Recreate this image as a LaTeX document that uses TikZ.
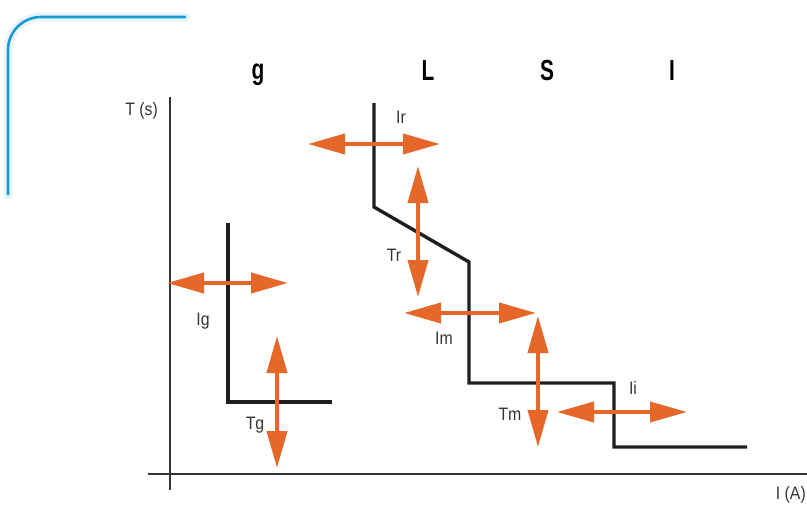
\documentclass[tikz,border=0pt]{standalone}
\usepackage{fontspec}
\setmainfont[FakeStretch=0.88]{Liberation Sans}
\newfontfamily\zonefont[FakeStretch=0.72]{Liberation Sans}
\usetikzlibrary{arrows.meta}
\definecolor{corang}{HTML}{E5682A}
\definecolor{cblue}{HTML}{1A9AD6}
\definecolor{curvec}{HTML}{1E1E1E}
\tikzset{
  ax/.style={line width=1.2pt, draw=curvec!90},
  curve/.style={line width=3.4pt, draw=curvec, line join=miter},
  adjarrow/.style={line width=4pt, draw=corang, {Triangle[length=37pt,width=20pt]}-{Triangle[length=37pt,width=20pt]}, fill=corang},
  lbl/.style={font=\fontsize{18}{19}\selectfont, text=curvec!90, inner sep=0pt},
  zone/.style={font=\zonefont\fontsize{29}{30}\selectfont\bfseries, text=black, inner sep=0pt},
}
\begin{document}
\begin{tikzpicture}[x=1pt,y=-1pt]
\useasboundingbox (0,0) rectangle (807,506);
% blue corner
\coordinate (b1) at (8,195);
\coordinate (b2) at (186,17);
\draw[line width=9pt, cblue!10, line cap=round] (b1) -- (8,50) arc[start angle=180,end angle=270,radius=33] -- (b2);
\draw[line width=2.6pt, cblue] (b1) -- (8,50) arc[start angle=180,end angle=270,radius=33] -- (b2);
% axes
\coordinate (ya) at (170,97);
\coordinate (yb) at (170,490);
\coordinate (xa) at (148,474);
\coordinate (xb) at (807,474);
\draw[ax] (ya) -- (yb);
\draw[ax] (xa) -- (xb);
\node[lbl, anchor=east] (ts) at (158,111) {T (s)};
\node[lbl, anchor=east] (ia) at (806,495) {I (A)};
% zone letters
\node[zone] (zg) at (258,75) {g};
\node[zone] (zl) at (428,71) {L};
\node[zone] (zs) at (547,71) {S};
\node[zone] (zi) at (672,71) {I};
% g curve
\coordinate (g1) at (228,223);
\coordinate (g2) at (228,402);
\coordinate (g3) at (332,402);
\draw[curve] (g1) -- (g2) -- (g3);
% LSI curve
\coordinate (c1) at (374,103);
\coordinate (c2) at (374,207);
\coordinate (c3) at (469,262);
\coordinate (c4) at (469,383);
\coordinate (c5) at (614,383);
\coordinate (c6) at (614,447);
\coordinate (c7) at (747,447);
\draw[curve] (c1) -- (c2) -- (c3) -- (c4) -- (c5) -- (c6) -- (c7);
% arrows
\coordinate (ig1) at (167,283); \coordinate (ig2) at (288,283);
\coordinate (tg1) at (277,336); \coordinate (tg2) at (277,468);
\coordinate (ir1) at (308,144); \coordinate (ir2) at (440,144);
\coordinate (tr1) at (418,166); \coordinate (tr2) at (418,297);
\coordinate (im1) at (404,313); \coordinate (im2) at (536,313);
\coordinate (tm1) at (538,316); \coordinate (tm2) at (538,447);
\coordinate (ii1) at (557,412); \coordinate (ii2) at (687,412);
\draw[adjarrow] (ig1) -- (ig2);
\draw[adjarrow] (tg1) -- (tg2);
\draw[adjarrow] (ir1) -- (ir2);
\draw[adjarrow] (tr1) -- (tr2);
\draw[adjarrow] (im1) -- (im2);
\draw[adjarrow] (tm1) -- (tm2);
\draw[adjarrow] (ii1) -- (ii2);
% labels
\node[lbl] (lir) at (401,117) {Ir};
\node[lbl] (ltr) at (394,255) {Tr};
\node[lbl] (lig) at (203,321) {Ig};
\node[lbl] (ltg) at (255,425) {Tg};
\node[lbl] (lim) at (444,338) {Im};
\node[lbl] (ltm) at (510,414) {Tm};
\node[lbl] (lii) at (633,388) {Ii};
\end{tikzpicture}
\end{document}
